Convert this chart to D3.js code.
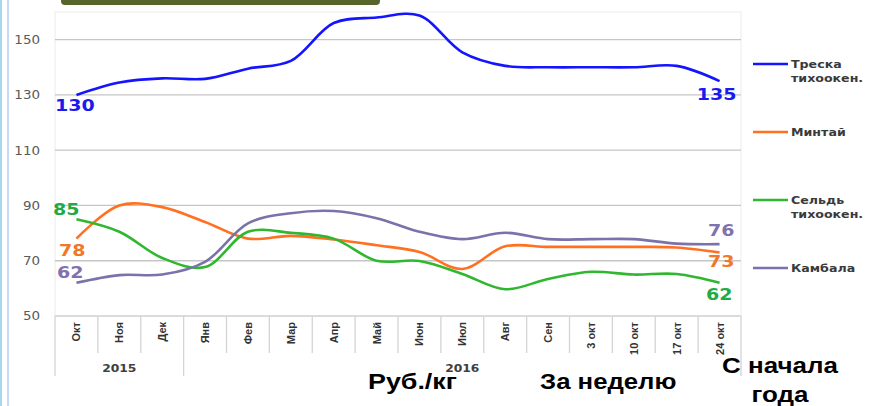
<!DOCTYPE html>
<html><head><meta charset="utf-8">
<script src="https://cdn.jsdelivr.net/npm/d3@7"></script>
<style>
html,body{margin:0;padding:0;background:#fff;}
svg{display:block;}
</style></head>
<body>
<svg id="chart" width="874" height="406"></svg>
<script>
// ---------- data ----------
const categories = ["Окт","Ноя","Дек","Янв","Фев","Мар","Апр","Май","Июн","Июл","Авг","Сен","3 окт","10 окт","17 окт","24 окт"];
const groupLabels = ["2015","2016"];
const groupStarts = [0,3];
const groupEnds = [3,16];
const seriesNames = ["Треска тихоокен.","Минтай","Сельдь тихоокен.","Камбала"];
const treska  = [130,134.5,136,135.8,139.5,142.3,156,158,158.7,145.4,140.5,140,140,140,140.5,135];
const mintai  = [78,90,89.4,84,78,79,77.7,75.6,73.2,67,75.2,75,75,75,74.8,73];
const seld    = [85,80.5,71,67.7,80.5,80.1,78,70,69.9,65.2,59.7,63.4,66,65,65.2,62];
const kambala = [62,64.8,65,69.6,83.5,87.2,88,85.4,80.5,77.8,80.1,77.8,77.8,77.8,76.2,76];
const yTicks = [50,70,90,110,130,150];
const bottomTexts = ["Руб./кг","За неделю"];
const ytdText = ["С начала","года"];

// ---------- styles ----------
const series = [
  {name:seriesNames[0], values:treska,  color:"#1414ff", label:"#1a1aee", lOff:[0,16], rOff:[0,19], legY:64},
  {name:seriesNames[1], values:mintai,  color:"#ff7020", label:"#f07828", lOff:[4,17], rOff:[-2,15], legY:132},
  {name:seriesNames[2], values:seld,    color:"#2fb82f", label:"#22aa44", lOff:[-2,-4], rOff:[-4,17], legY:200},
  {name:seriesNames[3], values:kambala, color:"#7a72aa", label:"#7f72ad", lOff:[2,-5], rOff:[-2,-8], legY:268}
];

const svg = d3.select("#chart");
const L = 55, R = 741, T = 12, B = 316;

const x = d3.scaleBand().domain(categories).range([L,R]).padding(0);
const y = d3.scaleLinear().domain([50,160]).range([B,T]);
const cx = c => x(c) + x.bandwidth()/2;

function stretch(sel, k){
  sel.each(function(){
    const w = this.getComputedTextLength();
    d3.select(this).attr("textLength", w*k).attr("lengthAdjust","spacingAndGlyphs");
  });
}

// left decorative borders
svg.append("line").attr("x1",1).attr("x2",1).attr("y1",0).attr("y2",406)
  .attr("stroke","#a6d8ea").attr("stroke-width",2);
svg.append("line").attr("x1",8).attr("x2",8).attr("y1",0).attr("y2",406)
  .attr("stroke","#b4cdef").attr("stroke-width",1.5);

// olive title bar
svg.append("path")
  .attr("d", "M61,0 L380,0 L380,1 Q380,5 376,5 L65,5 Q61,5 61,1 Z")
  .attr("fill","#56652a");

// plot frame
svg.append("rect").attr("x",L).attr("y",T).attr("width",R-L).attr("height",B-T)
  .attr("fill","none").attr("stroke","#ececec").attr("stroke-width",1);

// gridlines
svg.append("g").selectAll("line").data(yTicks.filter(v=>v>50)).join("line")
  .attr("x1",L).attr("x2",R).attr("y1",d=>y(d)).attr("y2",d=>y(d))
  .attr("stroke","#c6c6c6").attr("stroke-width",1.3);

// y axis
const yAxis = svg.append("g").attr("transform",`translate(${L-15},0)`)
  .call(d3.axisLeft(y).tickValues(yTicks).tickSize(0).tickPadding(0));
yAxis.select(".domain").remove();
yAxis.selectAll("text").attr("font-family","'DejaVu Sans', Verdana, sans-serif")
  .attr("font-size",12).attr("fill","#595959");
stretch(yAxis.selectAll("text"),1.12);

// x axis baseline
svg.append("line").attr("x1",L).attr("x2",R).attr("y1",B).attr("y2",B)
  .attr("stroke","#d2d2d2").attr("stroke-width",1.3);

// category separators
const groupBounds = new Set(groupStarts.concat(groupEnds));
const sepIdx = d3.range(0, categories.length+1);
svg.append("g").selectAll("line").data(sepIdx).join("line")
  .attr("x1",i=> i<categories.length ? x(categories[i]) : R)
  .attr("x2",i=> i<categories.length ? x(categories[i]) : R)
  .attr("y1",B).attr("y2",i=> groupBounds.has(i) ? 376 : 353)
  .attr("stroke","#d4d4d4").attr("stroke-width",1.3);

// category labels (rotated)
const catLab = svg.append("g").selectAll("text").data(categories).join("text")
  .attr("transform",d=>`translate(${cx(d)+4},322) rotate(-90)`)
  .attr("text-anchor","end")
  .attr("font-family","'Liberation Sans Narrow','Arial Narrow','Liberation Sans',sans-serif")
  .attr("font-weight","bold").attr("font-size",11).attr("fill","#333")
  .text(d=>d);

// group labels
svg.append("g").selectAll("text").data(groupLabels).join("text")
  .attr("x",(d,i)=> ((groupStarts[i]<categories.length?x(categories[groupStarts[i]]):R) + (groupEnds[i]<categories.length?x(categories[groupEnds[i]]):R))/2)
  .attr("y",372).attr("text-anchor","middle")
  .attr("font-family","'DejaVu Sans',Verdana,sans-serif").attr("font-weight","bold")
  .attr("font-size",11).attr("fill","#404040").text(d=>d)
  .call(s=>stretch(s,1.12));

// lines
const line = d3.line().x((d,i)=>cx(categories[i])).y(d=>y(d)).curve(d3.curveCatmullRom.alpha(0.5));
svg.append("g").selectAll("path").data(series).join("path")
  .attr("d",d=>line(d.values)).attr("fill","none")
  .attr("stroke",d=>d.color).attr("stroke-width",2.6).attr("stroke-linejoin","round");

// end labels
const fmt = d3.format("d");
const labG = svg.append("g").attr("font-family","'DejaVu Sans',Verdana,sans-serif")
  .attr("font-weight","900").attr("font-size",15);
series.forEach(s=>{
  const first = s.values[0], last = s.values[s.values.length-1];
  labG.append("text").attr("x",L + s.lOff[0]).attr("y",y(first)+s.lOff[1])
    .attr("fill",s.label).text(fmt(first)).call(t=>stretch(t,1.27));
  labG.append("text").attr("x",cx(categories[categories.length-1])+17+s.rOff[0]).attr("y",y(last)+s.rOff[1])
    .attr("text-anchor","end").attr("fill",s.label).text(fmt(last)).call(t=>stretch(t,1.27));
});

// legend
const leg = svg.append("g");
series.forEach(s=>{
  leg.append("line").attr("x1",753).attr("x2",788).attr("y1",s.legY).attr("y2",s.legY)
    .attr("stroke",s.color).attr("stroke-width",2.6);
  const parts = s.name.split(" ");
  const t = leg.append("text").attr("x",791).attr("y",s.legY+4)
    .attr("font-family","'DejaVu Sans',Verdana,sans-serif").attr("font-weight","bold")
    .attr("font-size",10.5).attr("fill","#3a3a3a");
  parts.forEach((p,i)=>{
    t.append("tspan").attr("x",791).attr("dy",i===0?0:14).text(p);
  });
  stretch(t.selectAll("tspan"),1.2);
});

// bottom texts
const bt = svg.append("g").attr("font-family","'Liberation Sans',Arial,sans-serif")
  .attr("font-weight","bold").attr("font-size",22).attr("fill","#000");
bt.append("text").attr("x",368).attr("y",389).text(bottomTexts[0]).call(t=>stretch(t,1.22));
bt.append("text").attr("x",540).attr("y",389).text(bottomTexts[1]).call(t=>stretch(t,1.17));
bt.append("text").attr("x",780).attr("y",373).attr("text-anchor","middle").text(ytdText[0]).call(t=>stretch(t,1.18));
bt.append("text").attr("x",780).attr("y",402).attr("text-anchor","middle").text(ytdText[1]).call(t=>stretch(t,1.18));
</script>
</body></html>
